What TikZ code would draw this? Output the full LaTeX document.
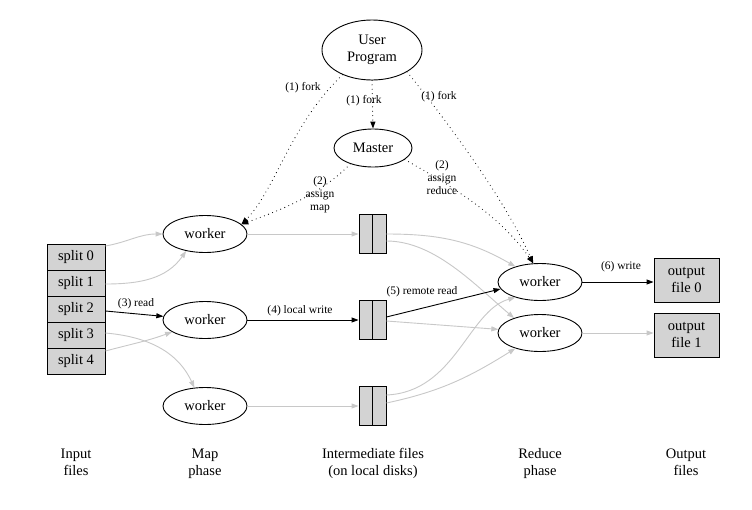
\documentclass[tikz,border=0pt]{standalone}
\usepackage{fontspec}
\setmainfont{Liberation Serif}
\usetikzlibrary{shapes.geometric,arrows.meta,calc}
\definecolor{edgegray}{RGB}{200,200,200}
\definecolor{boxgray}{RGB}{211,211,211}
\begin{document}
\begin{tikzpicture}[x=1pt,y=-1pt,
  every node/.style={font=\fontsize{14.5}{17}\selectfont},
  ell/.style={ellipse,draw,line width=0.9pt,inner sep=0pt,minimum width=84pt,minimum height=37pt},
  boxn/.style={rectangle,draw,line width=0.9pt,fill=boxgray,inner sep=0pt},
  lbl/.style={font=\fontsize{11.5}{13}\selectfont,align=center,inner sep=0pt},
  captxt/.style={align=center,inner sep=0pt,anchor=base},
  tip/.style={-{Triangle[length=7pt,width=5pt]}},
  gedge/.style={tip,draw=edgegray,line width=0.9pt},
  bedge/.style={tip,draw=black,line width=0.9pt},
  dedge/.style={tip,draw=black,line width=1.1pt,line cap=round,dash pattern=on 0pt off 4.4pt},
]
\useasboundingbox[fill=white] (0,0) rectangle (752,509);

% nodes
\node[ell,minimum width=100pt,minimum height=60pt,align=center] (uprog) at (372,50) {User\\Program};
\node[ell,minimum width=78pt,minimum height=38pt] (mast) at (373,148) {Master};
\node[ell] (w1) at (205,234) {worker};
\node[ell] (w2) at (205,320) {worker};
\node[ell] (w3) at (205,406) {worker};
\node[ell] (r1) at (540,282) {worker};
\node[ell] (r2) at (540,333) {worker};

\node[boxn,minimum width=58pt,minimum height=26pt] (s0) at (76,257) {split 0};
\node[boxn,minimum width=58pt,minimum height=26pt] (s1) at (76,283) {split 1};
\node[boxn,minimum width=58pt,minimum height=26pt] (s2) at (76,309) {split 2};
\node[boxn,minimum width=58pt,minimum height=26pt] (s3) at (76,335) {split 3};
\node[boxn,minimum width=58pt,minimum height=26pt] (s4) at (76,361) {split 4};

\node[boxn,minimum width=27pt,minimum height=39pt] (f1) at (372.5,234) {};
\node[boxn,minimum width=27pt,minimum height=39pt] (f2) at (372.5,320) {};
\node[boxn,minimum width=27pt,minimum height=39pt] (f3) at (372.5,406) {};
\draw[line width=0.9pt] (f1.north) -- (f1.south);
\draw[line width=0.9pt] (f2.north) -- (f2.south);
\draw[line width=0.9pt] (f3.north) -- (f3.south);

\node[boxn,minimum width=65pt,minimum height=44pt,align=center] (o0) at (686.5,280) {output\\file 0};
\node[boxn,minimum width=65pt,minimum height=44pt,align=center] (o1) at (686.5,335) {output\\file 1};

% bottom captions
\node[captxt] (c1) at (76,475) {Input\\files};
\node[captxt] (c2) at (205,475) {Map\\phase};
\node[captxt] (c3) at (373,475) {Intermediate files\\(on local disks)};
\node[captxt] (c4) at (540,475) {Reduce\\phase};
\node[captxt] (c5) at (686,475) {Output\\files};

% dotted control edges
\draw[dedge] (uprog.220) .. controls +(-53,51) and +(34,-34) .. (w1.15);
\draw[dedge] (uprog.south) -- (mast.north);
\draw[dedge] (uprog.328) .. controls +(43,53) and +(-28,-63) .. (r1.110);
\draw[dedge] (mast.215) .. controls +(-30,31) and +(39,-14) .. (w1.15);
\draw[dedge] (mast.340) .. controls +(46,26) and +(-33,-48) .. (r1.110);

% input splits to map workers
\draw[gedge] ([yshift=11pt]s0.east) to[out=10,in=180] (w1.west);
\draw[gedge] ([yshift=-1pt]s1.east) to[out=0,in=235] (w1.222);
\draw[bedge] ([yshift=-2pt]s2.east) -- (w2.175);
\draw[gedge] ([yshift=2pt]s3.east) to[out=-5,in=115] (w3.120);
\draw[gedge] ([yshift=10pt]s4.east) to[out=15,in=200] (w2.200);

% map workers to intermediate files
\draw[gedge] (w1.east) -- (f1.west);
\draw[bedge] (w2.east) -- (f2.west);
\draw[gedge] (w3.east) -- (f3.west);

% intermediate files to reduce workers
\draw[gedge] (f1.east) to[out=0,in=150] (r1.148);
\draw[gedge] ([yshift=-7pt]f1.east) .. controls +(48,0) and +(-39,-33) .. (r2.150);
\draw[bedge] ([yshift=3pt]f2.east) -- (r1.190);
\draw[gedge] ([yshift=-1pt]f2.east) -- (r2.175);
\draw[gedge] ([yshift=11pt]f3.east) .. controls +(69,-3) and +(-47,13) .. (r1.212);
\draw[gedge] ([yshift=3pt]f3.east) to[out=12,in=212] (r2.212);

% reduce workers to output files
\draw[bedge] (r1.east) -- (r1.east -| o0.west);
\draw[gedge] (r2.east) -- (r2.east -| o1.west);

% edge labels
\node[lbl] (l1) at (303,88) {(1) fork};
\node[lbl] (l2) at (364,101) {(1) fork};
\node[lbl] (l3) at (439,97) {(1) fork};
\node[lbl] (l4) at (320,195) {(2)\\assign\\map};
\node[lbl] (l5) at (442,178) {(2)\\assign\\reduce};
\node[lbl] (l6) at (136,304) {(3) read};
\node[lbl] (l7) at (300,311) {(4) local write};
\node[lbl] (l8) at (422,292) {(5) remote read};
\node[lbl] (l9) at (621,267) {(6) write};
\end{tikzpicture}
\end{document}
